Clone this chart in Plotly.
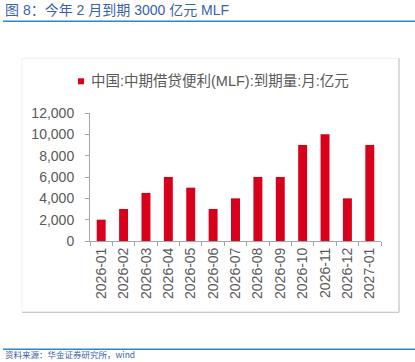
import plotly.graph_objects as go

months = ["2026-01", "2026-02", "2026-03", "2026-04", "2026-05", "2026-06", "2026-07",
          "2026-08", "2026-09", "2026-10", "2026-11", "2026-12", "2027-01"]
mlf_due = [2000, 3000, 4500, 6000, 5000, 3000, 4000, 6000, 6000, 9000, 10000, 4000, 9000]
series_name = "中国:中期借贷便利(MLF):到期量:月:亿元"
title_text = "图 8：今年 2 月到期 3000 亿元 MLF"
source_text = "资料来源：华金证券研究所，wind"

W, H = 415, 362
L, R, T, B = 90, 381, 112.7, 240.7

def px(x):
    return (x - L) / (R - L)

def py(y):
    return (B - y) / (B - T)

FONT = "Liberation Sans, Arial, Noto Sans CJK SC, sans-serif"
RED = "#D9001B"

fig = go.Figure()
fig.add_trace(go.Bar(
    x=months, y=mlf_due, name=series_name,
    marker=dict(color=RED, line=dict(width=0)),
    width=0.4, showlegend=False,
))

shapes = [
    # title rule
    dict(type="line", xref="paper", yref="paper", x0=px(3), x1=px(415), y0=py(21), y1=py(21),
         line=dict(color="#2E86C8", width=1.5)),
    # chart frame
    dict(type="rect", xref="paper", yref="paper", x0=px(22), x1=px(399), y0=py(312), y1=py(58),
         line=dict(color="#F0F0F0", width=1)),
    dict(type="line", xref="paper", yref="paper", x0=px(399), x1=px(399), y0=py(312), y1=py(58),
         line=dict(color="#BFBFBF", width=1)),
    dict(type="line", xref="paper", yref="paper", x0=px(22), x1=px(399), y0=py(312), y1=py(312),
         line=dict(color="#BFBFBF", width=1)),
    # bottom rule
    dict(type="line", xref="paper", yref="paper", x0=px(3), x1=px(415), y0=py(349), y1=py(349),
         line=dict(color="#2E86C8", width=1.5)),
    # legend swatch
    dict(type="rect", xref="paper", yref="paper", x0=px(78), x1=px(84), y0=py(84), y1=py(78),
         fillcolor=RED, line=dict(width=0)),
]

annotations = [
    dict(text=title_text, xref="paper", yref="paper", x=px(3), y=py(10), xanchor="left",
         yanchor="middle", showarrow=False,
         font=dict(family="Liberation Sans, Noto Sans CJK SC, sans-serif", size=14, color="#3A62A7")),
    dict(text=series_name, xref="paper", yref="paper", x=px(89), y=py(81), xanchor="left",
         yanchor="middle", showarrow=False,
         font=dict(family="Liberation Sans, Noto Sans CJK SC, sans-serif", size=14.5, color="#595959")),
    dict(text=source_text, xref="paper", yref="paper", x=px(4), y=py(361), xanchor="left",
         yanchor="bottom", showarrow=False, borderpad=0,
         font=dict(family="Noto Sans CJK SC, sans-serif", size=8.5, color="#3A62A7")),
]

fig.update_layout(
    width=W, height=H,
    margin=dict(l=L, r=W - R, t=T, b=H - B, pad=0, autoexpand=False),
    paper_bgcolor="white", plot_bgcolor="white",
    font=dict(family=FONT, color="#595959", size=14),
    showlegend=False,
    shapes=shapes, annotations=annotations,
)
fig.update_yaxes(range=[0, 12000], tickvals=[0, 2000, 4000, 6000, 8000, 10000, 12000],
                 tickformat=",", showgrid=False, zeroline=False, automargin=False,
                 showline=True, linecolor="#A6A6A6", linewidth=1,
                 ticks="outside", ticklen=4, tickcolor="#A6A6A6",
                 tickfont=dict(size=14, color="#595959"), ticklabelstandoff=8)
fig.update_xaxes(type="category", showgrid=False, showline=True, linecolor="#A6A6A6",
                 linewidth=1, ticks="outside", ticklen=4, tickcolor="#A6A6A6",
                 tickson="boundaries", tickangle=-90, automargin=False,
                 tickfont=dict(size=14, color="#595959"))

fig.write_html("out.html", config={"displayModeBar": False},
               post_script="document.body.style.margin='0';document.body.style.overflow='hidden';")
